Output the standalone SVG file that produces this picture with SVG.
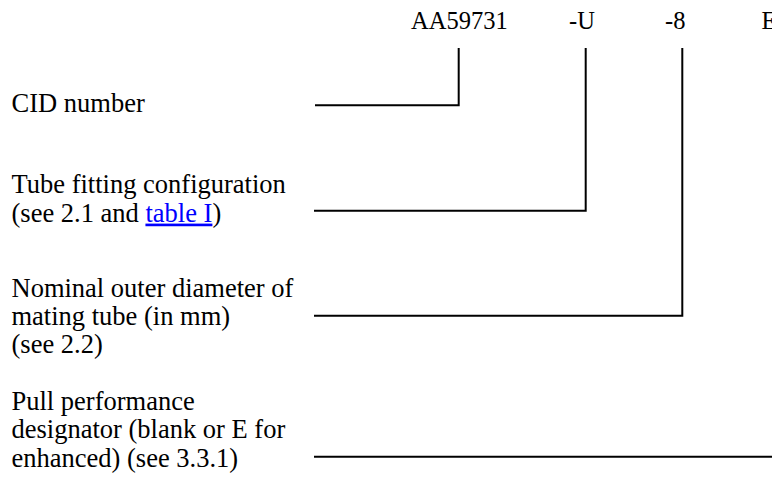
<svg xmlns="http://www.w3.org/2000/svg" width="772" height="479" viewBox="0 0 772 479">
<style>
text{font-family:"Liberation Serif","Times New Roman",serif;fill:#000}
.code{font-size:24.5px}
.lbl{font-size:26.5px}
.link{fill:#0000ff;text-decoration:underline}
.conn{fill:none;stroke:#000;stroke-width:2}
</style>
<rect width="772" height="479" fill="#fff"/>
<g id="codes">
<text class="code" x="411" y="28.5">AA59731</text>
<text class="code" x="569" y="28.5">-U</text>
<text class="code" x="665" y="28.5">-8</text>
<text class="code" x="761.5" y="28.5">E</text>
</g>
<g id="cid">
<text class="lbl" x="11.5" y="112.3">CID number</text>
</g>
<g id="tube">
<text class="lbl" x="11.5" y="193.3">Tube fitting configuration</text>
<text class="lbl" x="11.5" y="221.6">(see 2.1 and <tspan class="link">table I</tspan>)</text>
</g>
<g id="diameter">
<text class="lbl" x="11.5" y="296.7">Nominal outer diameter of</text>
<text class="lbl" x="11.5" y="325">mating tube (in mm)</text>
<text class="lbl" x="11.5" y="353.3">(see 2.2)</text>
</g>
<g id="pull">
<text class="lbl" x="11.5" y="410">Pull performance</text>
<text class="lbl" x="11.5" y="438.3">designator (blank or E for</text>
<text class="lbl" x="11.5" y="466.6">enhanced) (see 3.3.1)</text>
</g>
<g id="connectors">
<polyline class="conn" points="315,105.3 458.7,105.3 458.7,48"/>
<polyline class="conn" points="314,210.7 585.7,210.7 585.7,48"/>
<polyline class="conn" points="314,315.7 682.3,315.7 682.3,48"/>
<polyline class="conn" points="314,456.7 772,456.7"/>
</g>
</svg>
